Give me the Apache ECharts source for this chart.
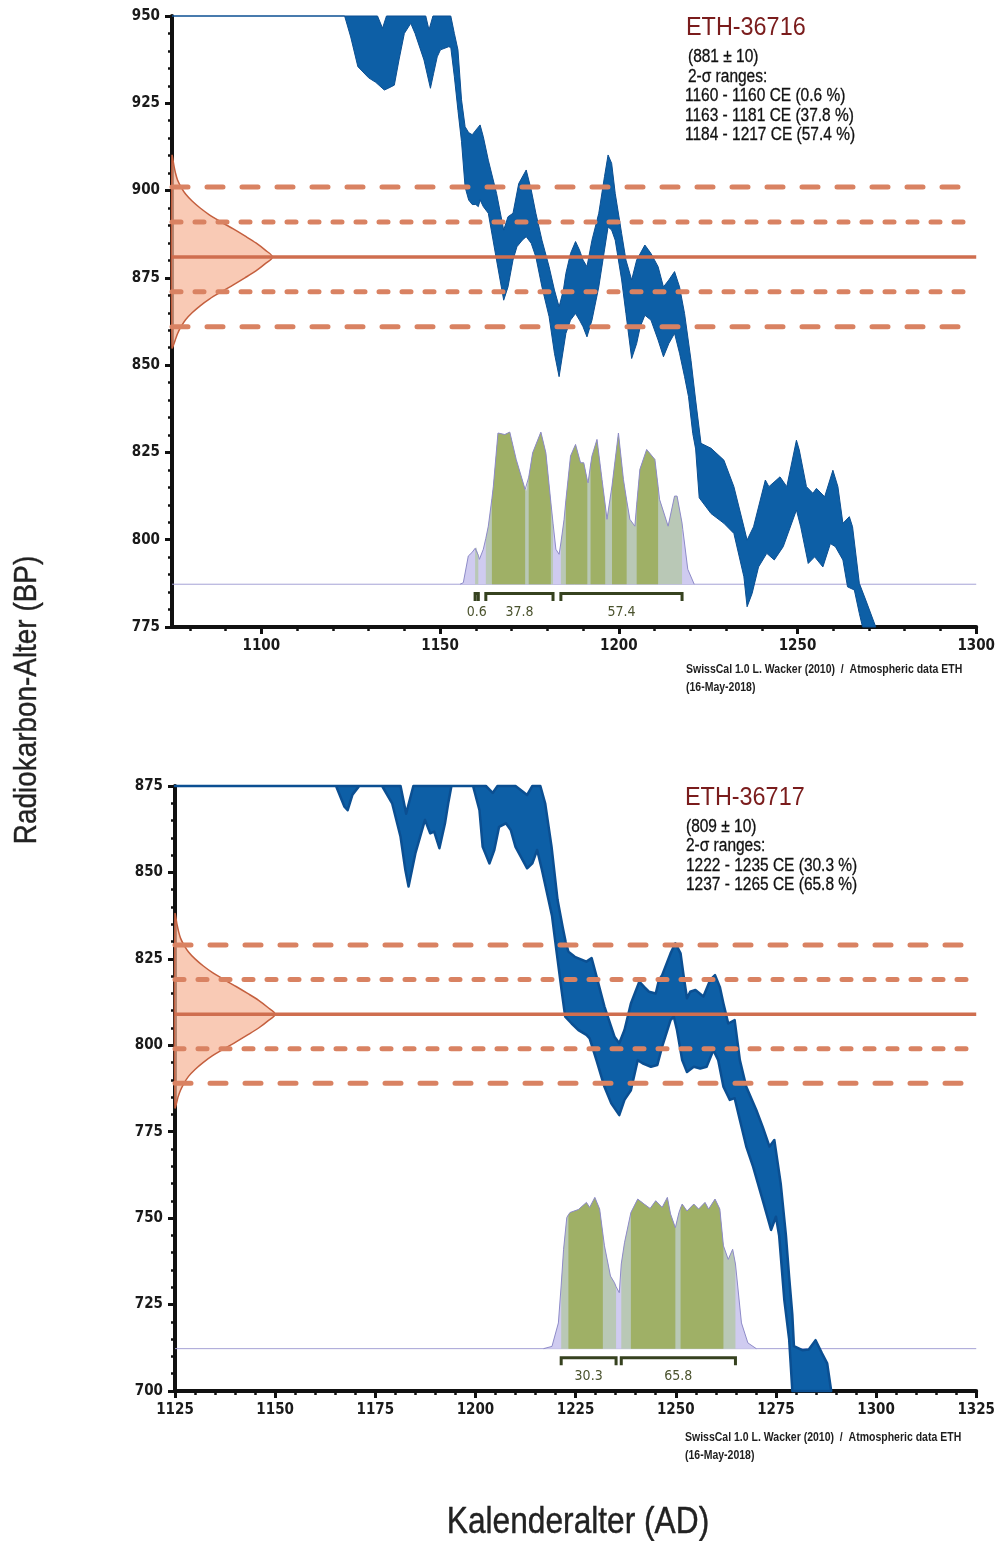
<!DOCTYPE html>
<html><head><meta charset="utf-8">
<script src="https://cdn.jsdelivr.net/npm/echarts/dist/echarts.min.js"></script>
<style>html,body{margin:0;padding:0;background:#fff}#chart{width:998px;height:1541px}</style>
</head><body><div id="chart"></div>
<script>
const FONT = "'DejaVu Sans Condensed','Liberation Sans',sans-serif";
const SANS = "'Liberation Sans',Arial,sans-serif";

// ---------- axes ----------
const topYearRange = [1075, 1300];
const topBPRange = [775, 950];
const topYearLabels = [1100, 1150, 1200, 1250, 1300];
const topYearMinorStep = 10;
const bottomYearRange = [1125, 1325];
const bottomBPRange = [700, 875];
const bpInterval = 25;
const bottomYearInterval = 25;
const probRange = [-28, 372];
const gaussWidthRange = [0, 800];

// ---------- ETH-36716 (top) ----------
const topUpper = [[1075,950],[1132.5,950],[1133.9,946.5],[1135,950],[1146,950],[1146.9,946],[1148,950],[1153,950],[1154,945],[1155,940.3],[1156,926],[1157,918.3],[1158,916.6],[1159,916],[1160,917.3],[1161.2,918.8],[1162.1,915.4],[1163.5,908.7],[1165.8,899.2],[1167.8,888.7],[1169,892.5],[1170.4,893.5],[1172,902],[1174.1,905.9],[1175.5,900.2],[1176.8,893.5],[1178.5,885.8],[1180.5,878.2],[1182,871.5],[1183.3,866.7],[1184.5,871.5],[1185.2,876.3],[1186.5,882],[1187.9,885.4],[1189,883],[1190,880.1],[1191.1,878.2],[1192.5,885.8],[1194.4,893.5],[1196,904],[1197,910.2],[1198,907.8],[1199,899.2],[1200.8,887.7],[1202,880.1],[1203.6,874.4],[1205,880.1],[1207.3,884.4],[1209,882],[1211,878.2],[1212.5,872.4],[1214,874.4],[1215.6,876.8],[1217,872.4],[1218.4,864.8],[1220.2,851.4],[1221.5,840],[1223,827.6],[1225.8,826.2],[1229.4,822.8],[1232.2,815.2],[1235,803.7],[1235.9,799.9],[1237.7,803.7],[1241,817.1],[1242,815.2],[1245.1,818],[1247,815.2],[1249.7,828.5],[1250.5,825.7],[1252.5,815.2],[1254.3,813.3],[1255.3,814.7],[1257.6,812.3],[1259.9,819.9],[1261.3,815.2],[1262.7,804.7],[1264.5,806.6],[1265.4,803.7],[1267.3,787.5],[1269.1,782.7],[1271.9,775]];
const topLower = [[1075,950],[1123.3,950],[1125,944],[1127,935.5],[1130,932.3],[1132,931],[1134.4,928.8],[1135.5,929.3],[1137.2,930.2],[1138.5,937.4],[1140,945],[1141.8,947.9],[1143,945],[1145.5,937.4],[1147.3,929.3],[1148.2,933.6],[1149.2,938.3],[1150.1,940.3],[1152.4,941.2],[1153,941],[1154,932.6],[1155,923],[1156,914],[1157,901],[1158,897.3],[1159,896],[1160,896],[1160.7,895.4],[1161.2,897.3],[1162.1,895.4],[1163.5,893.5],[1165.8,880.1],[1167.8,868.6],[1169,872.4],[1170.4,880.1],[1171.5,883.9],[1173,885.8],[1174.1,886.8],[1175.5,884.9],[1176.8,881],[1178.5,872.4],[1180.5,863.9],[1182,853.4],[1183.3,846.7],[1185.2,859.1],[1186.5,862.9],[1187.9,864.8],[1189,862.9],[1190,861],[1191.1,858.1],[1192.5,862.9],[1194.4,872.4],[1196,883],[1197,889.6],[1198,888.7],[1199,885.8],[1200.8,874.4],[1202,864.8],[1203.6,851.9],[1205,856.2],[1206,861],[1207.3,864.3],[1209,862.9],[1211,857.2],[1212.5,852.4],[1214,856.2],[1215.6,859.1],[1217,853.4],[1218.4,846.7],[1219.5,841],[1220.7,830.4],[1221.5,826],[1222.5,812],[1225.8,807.5],[1229.4,804.7],[1232.2,801.8],[1235,789.4],[1235.9,780.8],[1237.3,784.6],[1239.1,792.2],[1241.4,796.1],[1243.5,794.2],[1246,798],[1249.7,808.5],[1250.9,803.7],[1253,793.2],[1254.8,795.1],[1257.1,792.2],[1259.2,798.9],[1260.6,798],[1262.7,794.2],[1264,786.5],[1265.9,785.6],[1267.3,778.9],[1268.2,775],[1271.9,775]];
const topLines = [861, 871, 881, 891, 901];
const topGaussBP = [910, 907, 905, 903, 901, 899, 897, 895, 893, 891, 889, 887, 885, 883, 881, 879, 877, 875, 873, 871, 869, 867, 865, 863, 861, 859, 857, 855];
const topGaussW  = [0, 2, 3.5, 5.5, 9, 13.5, 20, 28, 37.5, 49, 61, 72.5, 83.5, 92.5, 100, 92.5, 83.5, 72.5, 61, 49, 37.5, 28, 20, 13.5, 9, 5.5, 3, 0];
const topProbYears = [1155.6,1156.5,1157.9,1158.9,1159.8,1160.1,1160.7,1161,1162.1,1162.8,1163.5,1164.5,1164.9,1166.2,1168.1,1169.5,1171.3,1173.8,1174.1,1174.8,1175.9,1178.2,1179.6,1181,1181.6,1182.4,1183.3,1183.8,1184.7,1185.2,1186.5,1187.9,1189.3,1190.2,1191.2,1191.4,1192.1,1192.5,1193.9,1195.3,1196.2,1196.7,1198.1,1199.9,1201.3,1202.2,1203.1,1204.5,1205,1205.9,1207.8,1210.1,1211,1211.4,1213.8,1215.6,1216.3,1217.7,1217.9,1219.3,1221.1];
const topProb = [0,1,18.5,20.7,23.5,24,19,16.3,22.9,30,38,56,64,99,98,99.6,81.7,62,61,70,86,99.6,86,53.4,40,22.9,19.6,27,42.5,55,84,91.5,79.5,79.5,68,66.4,78,84,94.8,68.6,52,42.5,64.3,99,68.6,55,42.5,38,52,75.2,88.2,81.7,64,55.6,38,57.7,57.7,40,36,9.8,0];
const topRangeStart = [1159.8, 1162.8, 1183.8];
const topRangeEnd   = [1160.7, 1181.6, 1217.7];
const topRangePct   = ['0.6', '37.8', '57.4'];
const topSigma1Start = [1164.5, 1174.8, 1185.2, 1192.1, 1198.1, 1205];
const topSigma1End   = [1173.8, 1181, 1191.2, 1196.2, 1202.2, 1211];
const topInfo = ['(881 ± 10)', '2-σ ranges:', '1160 - 1160 CE (0.6 %)', '1163 - 1181 CE (37.8 %)', '1184 - 1217 CE (57.4 %)'];

// ---------- ETH-36717 (bottom) ----------
const bottomUpper = [[1125,875],[1181.3,875],[1182.7,867],[1184.5,875],[1202.6,875],[1204.3,873],[1205.5,875],[1210,875],[1212.9,872.4],[1214.2,875],[1216.2,875],[1217.4,870],[1219,857.4],[1220.5,842],[1221.8,834],[1222.5,830],[1223.2,827.1],[1224.8,825.6],[1227.7,824.2],[1229,825.2],[1230.2,820],[1232.2,811.2],[1234.7,802.5],[1235.9,800.6],[1237.2,804.4],[1238.8,812.1],[1240.9,818.4],[1242.1,816.9],[1243.3,815.5],[1245,815],[1245.8,818.9],[1246.6,820.3],[1248.7,826.6],[1249.9,829.5],[1251.2,826.6],[1252,819.8],[1252.8,813.6],[1253.6,815.5],[1254.9,816],[1256.9,814.1],[1258.6,818.9],[1259.8,820.3],[1261,816.9],[1261.9,812.1],[1263.1,806.3],[1264.7,807.3],[1266,795.7],[1267.6,788],[1270.1,781.3],[1271.7,776.4],[1273.4,770.7],[1274.6,772.6],[1276.2,760],[1277.5,745],[1278.3,733],[1279.1,722],[1279.5,713],[1281.6,711.8],[1283.2,712],[1284.9,714.7],[1286.5,710.9],[1287.8,708],[1288.8,700]];
const bottomLower = [[1125,875],[1165.2,875],[1167.3,869],[1168.1,868],[1169.3,872.5],[1171,875],[1176.7,875],[1179.2,870],[1181.3,860.3],[1182.5,850.7],[1183.3,845.9],[1185,855.5],[1187.4,865.2],[1188.7,861.3],[1189.7,861.8],[1191,857],[1192.4,864.2],[1193.2,870],[1194,875],[1199.4,875],[1201,868],[1201.8,857.4],[1203.5,852.6],[1204.7,856.5],[1205.9,863.2],[1207.6,864.2],[1208.8,862.3],[1210,857.4],[1212.9,851.2],[1214.2,852.6],[1215.4,856.5],[1216.6,850.7],[1219.1,837.5],[1220.3,826.6],[1221.6,815],[1222.4,808.3],[1224,806.3],[1225.7,804.4],[1227.7,803],[1228.5,802],[1230.2,795.7],[1232.2,788],[1233.9,783.2],[1235.9,779.8],[1237.2,784.2],[1238.8,787],[1240.5,795.7],[1241.7,794.8],[1243.8,793.8],[1245.4,794.3],[1246.6,799.6],[1248.7,807.3],[1249.5,808.3],[1250.3,804.4],[1251.6,795.7],[1252.8,792.3],[1254.5,793.8],[1256.1,793.3],[1257.7,793.8],[1259.4,798.6],[1260.6,795.7],[1261.9,788],[1263.5,784.2],[1264.7,784.7],[1266,778.4],[1267.6,770.7],[1269.3,764.9],[1271.7,755.2],[1273.8,746.6],[1275,750.4],[1275.8,745],[1277.1,726.3],[1278.3,715],[1279.1,700],[1288.8,700]];
const bottomLines = [789, 799, 809, 819, 829];
const bottomGaussBP = [838, 835, 833, 831, 829, 827, 825, 823, 821, 819, 817, 815, 813, 811, 809, 807, 805, 803, 801, 799, 797, 795, 793, 791, 789, 787, 785, 782];
const bottomGaussW  = [0, 2, 3.5, 5.5, 9, 13.5, 20, 28, 37.5, 49, 61, 72.5, 83.5, 92.5, 100, 92.5, 83.5, 72.5, 61, 49, 37.5, 28, 20, 13.5, 9, 5.5, 3, 0];
const bottomProbYears = [1217,1219.1,1220.7,1221.4,1222,1222.8,1223.2,1223.6,1225.7,1227.7,1228.5,1229.8,1231,1231.8,1232.2,1233.7,1234.7,1235.1,1235.9,1236.4,1237.2,1238.8,1240.5,1242.1,1243.6,1245,1246.6,1247.9,1248.7,1249.9,1250.8,1251.2,1251.6,1252.8,1254.5,1255.7,1257.3,1258.2,1259.8,1261,1261.9,1263.1,1264.2,1264.9,1266.4,1268,1270.1];
const bottomProb = [0,1.5,17,42,65.7,86.7,88.5,90,92,96.7,93.4,100,92.3,76,68,48,43.6,41,37,56,70,90,98.9,95.6,92.7,97.8,93.4,100,89,80,90,93,95.6,91,95.6,92.3,96.7,92.3,98.9,92.3,68,59,65.7,56,17,3.8,0];
const bottomRangeStart = [1221.4, 1236.4];
const bottomRangeEnd   = [1235.1, 1264.9];
const bottomRangePct   = ['30.3', '65.8'];
const bottomSigma1Start = [1223.2, 1238.8, 1251.2];
const bottomSigma1End   = [1231.8, 1249.9, 1261.9];
const bottomInfo = ['(809 ± 10)', '2-σ ranges:', '1222 - 1235 CE (30.3 %)', '1237 - 1265 CE (65.8 %)'];

const footer1 = 'SwissCal 1.0 L. Wacker (2010)  /  Atmospheric data ETH';
const footer2 = '(16-May-2018)';

// ---------- builders ----------
const topYearMinor = [];
for (let y = topYearRange[0] + 5; y < topYearRange[1]; y += topYearMinorStep) {
  if (topYearLabels.indexOf(y) < 0) topYearMinor.push(y);
}

function polySeries(xi, yi, z, pts, style, smooth) {
  return { type: 'custom', xAxisIndex: xi, yAxisIndex: yi, z: z, silent: true, data: [0],
    renderItem: (params, api) => ({ type: 'polygon', shape: { points: pts.map(p => api.coord(p)), smooth: smooth || 0 }, style: style }) };
}
function distPts(years, vals, s, e) {
  const pts = [];
  years.forEach((y, i) => { if (y >= s && y <= e) pts.push([y, vals[i]]); });
  if (!pts.length) return [];
  return [[pts[0][0], 0]].concat(pts).concat([[pts[pts.length - 1][0], 0]]);
}
function chartSeries(xi, xg, yi, yp, yr, upper, lower, lines, gBP, gW, pYears, prob, rS, rE, rP, s1S, s1E, bandLW) {
  const out = [];
  out.push({ type: 'line', xAxisIndex: xi, yAxisIndex: yp, z: 2, silent: true, symbol: 'none',
    data: [[yr[0], 0], [yr[1], 0]], lineStyle: { color: '#a6a3d6', width: 1 } });
  out.push(polySeries(xi, yp, 3, distPts(pYears, prob, -1e9, 1e9), { fill: '#cfcbf0' }));
  rS.forEach((s, i) => out.push(polySeries(xi, yp, 4, distPts(pYears, prob, s, rE[i]), { fill: '#b9c8b6' })));
  s1S.forEach((s, i) => out.push(polySeries(xi, yp, 5, distPts(pYears, prob, s, s1E[i]), { fill: '#9fb066' })));
  out.push({ type: 'line', xAxisIndex: xi, yAxisIndex: yp, z: 6, silent: true, symbol: 'none',
    data: pYears.map((y, i) => [y, prob[i]]), lineStyle: { color: '#8e8bc8', width: 1 } });
  out.push({ type: 'custom', xAxisIndex: xi, yAxisIndex: yp, z: 6, silent: true,
    data: rS.map((s, i) => [s, rE[i], i]),
    renderItem: (params, api) => {
      const s = api.value(0), e = api.value(1), k = api.value(2);
      const pts = [[s, -11], [s, -6], [e, -6], [e, -11]].map(p => api.coord(p));
      const c = api.coord([(s + e) / 2, -18.5]);
      return { type: 'group', children: [
        { type: 'polyline', shape: { points: pts }, style: { stroke: '#36421f', lineWidth: 3, fill: null } },
        { type: 'text', x: c[0], y: c[1], style: { text: rP[k], font: '14px ' + FONT, fill: '#4b532e', align: 'center', verticalAlign: 'middle' } }
      ] };
    } });
  out.push(polySeries(xi, yi, 7, upper.concat(lower.slice().reverse()),
    { fill: '#0d5fa6', stroke: '#0b4f92', lineWidth: bandLW, lineJoin: 'round' }));
  out.push(polySeries(xg, yi, 8, gBP.map((b, i) => [gW[i], b]),
    { fill: 'rgba(246,182,152,0.72)', stroke: '#c45f3e', lineWidth: 1.5 }, 0.3));
  lines.forEach((v, i) => {
    const k = i - 2;
    const ls = k === 0 ? { color: '#cf6e4f', width: 3.5, type: 'solid' }
      : (Math.abs(k) === 1 ? { color: '#d98262', width: 5, type: [9, 14], cap: 'round' }
                           : { color: '#d98262', width: 5, type: [16, 19], cap: 'round' });
    out.push({ type: 'line', xAxisIndex: xi, yAxisIndex: yi, z: 9, silent: true, symbol: 'none',
      data: [[yr[0], v], [yr[1], v]], lineStyle: ls });
  });
  return out;
}

const labelStyle = { fontSize: 15, fontWeight: 'bold', fontFamily: FONT, color: '#1a1a1a', margin: 12, formatter: v => String(v) };
const axisCommon = {
  axisLine: { show: true, onZero: false, lineStyle: { color: '#111', width: 4 } },
  axisTick: { show: true, length: 7, lineStyle: { color: '#111', width: 3 } },
  axisLabel: labelStyle,
  splitLine: { show: false }
};
const minorTick = { show: true, splitNumber: 5, length: 4, lineStyle: { color: '#111', width: 2.5 } };

const chart = echarts.init(document.getElementById('chart'), null, { renderer: 'canvas' });
const option = {
  animation: false,
  backgroundColor: '#fff',
  grid: [
    { left: 172, top: 16, width: 813, height: 611 },
    { left: 175, top: 786, width: 811, height: 605 }
  ],
  xAxis: [
    Object.assign({}, axisCommon, { gridIndex: 0, type: 'value', position: 'bottom', min: topYearRange[0], max: topYearRange[1],
      axisTick: Object.assign({}, axisCommon.axisTick, { customValues: topYearLabels }),
      axisLabel: Object.assign({}, labelStyle, { customValues: topYearLabels }) }),
    { gridIndex: 0, type: 'value', position: 'bottom', min: topYearRange[0], max: topYearRange[1],
      axisLine: { show: false, onZero: false }, axisLabel: { show: false }, splitLine: { show: false },
      axisTick: { show: true, customValues: topYearMinor, length: 4, lineStyle: { color: '#111', width: 2.5 } } },
    { gridIndex: 0, type: 'value', show: false, min: gaussWidthRange[0], max: gaussWidthRange[1] },
    Object.assign({}, axisCommon, { gridIndex: 1, type: 'value', position: 'bottom', min: bottomYearRange[0], max: bottomYearRange[1],
      interval: bottomYearInterval, minorTick: minorTick }),
    { gridIndex: 1, type: 'value', show: false, min: gaussWidthRange[0], max: gaussWidthRange[1] }
  ],
  yAxis: [
    Object.assign({}, axisCommon, { gridIndex: 0, type: 'value', min: topBPRange[0], max: topBPRange[1], interval: bpInterval, minorTick: minorTick }),
    { gridIndex: 0, type: 'value', show: false, min: probRange[0], max: probRange[1] },
    Object.assign({}, axisCommon, { gridIndex: 1, type: 'value', min: bottomBPRange[0], max: bottomBPRange[1], interval: bpInterval, minorTick: minorTick }),
    { gridIndex: 1, type: 'value', show: false, min: probRange[0], max: probRange[1] }
  ],
  series: [].concat(
    chartSeries(0, 2, 0, 1, topYearRange, topUpper, topLower, topLines, topGaussBP, topGaussW, topProbYears, topProb,
      topRangeStart, topRangeEnd, topRangePct, topSigma1Start, topSigma1End, 1),
    chartSeries(3, 4, 2, 3, bottomYearRange, bottomUpper, bottomLower, bottomLines, bottomGaussBP, bottomGaussW, bottomProbYears, bottomProb,
      bottomRangeStart, bottomRangeEnd, bottomRangePct, bottomSigma1Start, bottomSigma1End, 2.5)
  ),
  graphic: [
    { type: 'text', x: 686, y: 28, scaleX: 0.9, style: { text: 'ETH-36716', font: '26px ' + SANS, fill: '#7a1c1c', verticalAlign: 'middle' } },
    ...topInfo.map((t, i) => ({ type: 'text', x: i < 2 ? 688 : 685, y: 57 + i * 19.6, scaleX: 0.86, style: { text: t, font: '18px ' + SANS, fill: '#111', verticalAlign: 'middle', stroke: '#111', lineWidth: 0.3 } })),
    { type: 'text', x: 686, y: 670, scaleX: 0.84, style: { text: footer1, font: 'bold 12.5px ' + SANS, fill: '#1e1e1e', verticalAlign: 'middle' } },
    { type: 'text', x: 686, y: 688, scaleX: 0.84, style: { text: footer2, font: 'bold 12.5px ' + SANS, fill: '#1e1e1e', verticalAlign: 'middle' } },
    { type: 'text', x: 685, y: 798, scaleX: 0.9, style: { text: 'ETH-36717', font: '26px ' + SANS, fill: '#7a1c1c', verticalAlign: 'middle' } },
    ...bottomInfo.map((t, i) => ({ type: 'text', x: 686, y: 827 + i * 19.4, scaleX: 0.86, style: { text: t, font: '18px ' + SANS, fill: '#111', verticalAlign: 'middle', stroke: '#111', lineWidth: 0.3 } })),
    { type: 'text', x: 685, y: 1438, scaleX: 0.84, style: { text: footer1, font: 'bold 12.5px ' + SANS, fill: '#1e1e1e', verticalAlign: 'middle' } },
    { type: 'text', x: 685, y: 1456, scaleX: 0.84, style: { text: footer2, font: 'bold 12.5px ' + SANS, fill: '#1e1e1e', verticalAlign: 'middle' } },
    { type: 'text', x: 27, y: 700, rotation: Math.PI / 2, scaleX: 0.9, style: { text: 'Radiokarbon-Alter (BP)', font: '31px ' + SANS, fill: '#222', align: 'center', verticalAlign: 'middle', stroke: '#222', lineWidth: 0.4 } },
    { type: 'text', x: 578, y: 1523, scaleX: 0.88, style: { text: 'Kalenderalter (AD)', font: '36px ' + SANS, fill: '#222', align: 'center', verticalAlign: 'middle', stroke: '#222', lineWidth: 0.4 } }
  ]
};
chart.setOption(option);
</script></body></html>
